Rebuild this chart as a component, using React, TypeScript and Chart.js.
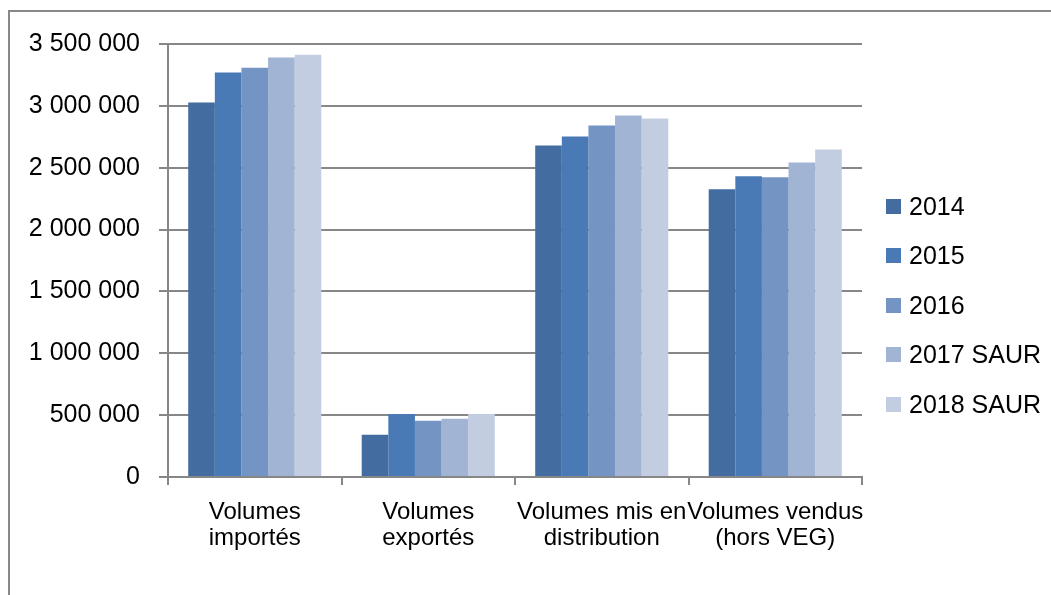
import React, { useEffect, useRef } from "react";
import { Chart, registerables } from "chart.js";

Chart.register(...registerables);

const categories: string[][] = [
  ["Volumes", "importés"],
  ["Volumes", "exportés"],
  ["Volumes mis en", "distribution"],
  ["Volumes vendus", "(hors VEG)"],
];

const seriesNames = ["2014", "2015", "2016", "2017 SAUR", "2018 SAUR"];

const v2014 = [3027000, 341000, 2680000, 2325000];
const v2015 = [3269000, 510000, 2752000, 2430000];
const v2016 = [3309000, 454000, 2841000, 2422000];
const v2017 = [3390000, 470000, 2922000, 2543000];
const v2018 = [3414000, 510000, 2898000, 2648000];

const seriesValues = [v2014, v2015, v2016, v2017, v2018];
const seriesColors = ["#436CA0", "#4A7AB5", "#7494C4", "#A2B4D4", "#C3CDE2"];

const yMax = 3500000;
const yStep = 500000;

const FONT = "'Liberation Sans', Arial, sans-serif";
const GRID = "#878787";

function fmt(n: number): string {
  return String(Math.round(n)).replace(/\B(?=(\d{3})+(?!\d))/g, " ");
}

export default function App() {
  const ref = useRef<HTMLCanvasElement | null>(null);

  useEffect(() => {
    document.body.style.margin = "0";
    const canvas = ref.current;
    if (!canvas) return;
    const chart = new Chart(canvas, {
      type: "bar",
      data: {
        labels: categories,
        datasets: seriesNames.map((name, i) => ({
          label: name,
          data: seriesValues[i],
          backgroundColor: seriesColors[i],
          borderWidth: 0,
          categoryPercentage: 0.767,
          barPercentage: 1,
        })),
      },
      options: {
        animation: false,
        responsive: false,
        maintainAspectRatio: false,
        layout: { padding: { left: 0, top: 44, right: 189, bottom: 0 } },
        plugins: {
          legend: { display: false },
          tooltip: { enabled: false },
        },
        scales: {
          x: {
            grid: {
              display: true,
              offset: true,
              drawOnChartArea: false,
              drawTicks: true,
              tickLength: 8,
              color: GRID,
              lineWidth: 2,
            },
            border: { display: true, color: GRID, width: 2 },
            ticks: {
              color: "#000",
              font: { family: FONT, size: 24, lineHeight: 1.1 },
              padding: 14,
              maxRotation: 0,
              minRotation: 0,
              autoSkip: false,
            },
            afterFit: (s: any) => {
              s.height = 118;
            },
          },
          y: {
            min: 0,
            max: yMax,
            grid: {
              color: GRID,
              lineWidth: 2,
              tickLength: 9,
              drawTicks: true,
            },
            border: { display: true, color: GRID, width: 2 },
            ticks: {
              stepSize: yStep,
              color: "#000",
              font: { family: FONT, size: 25 },
              padding: 19,
              callback: (v: any) => fmt(Number(v)),
            },
            afterFit: (s: any) => {
              s.width = 168;
            },
          },
        },
      },
    });
    return () => chart.destroy();
  }, []);

  return (
    <div style={{ position: "relative", width: 1051, height: 595, overflow: "hidden", background: "#fff" }}>
      <div
        style={{
          position: "absolute",
          left: 8,
          top: 10,
          width: 1100,
          height: 700,
          borderTop: "2px solid #888",
          borderLeft: "2px solid #888",
          boxSizing: "border-box",
        }}
      />
      <canvas ref={ref} width={1051} height={595} style={{ position: "absolute", left: 0, top: 0, width: 1051, height: 595 }} />
      <div style={{ position: "absolute", left: 886, top: 0 }}>
        {seriesNames.map((name, i) => (
          <div
            key={name}
            style={{
              position: "absolute",
              left: 0,
              top: 206 + i * 49.6 - 15,
              height: 30,
              display: "flex",
              alignItems: "center",
              whiteSpace: "nowrap",
              fontFamily: FONT,
              fontSize: 25,
              color: "#000",
            }}
          >
            <span style={{ display: "inline-block", width: 15, height: 15, background: seriesColors[i], marginRight: 8 }} />
            <span>{name}</span>
          </div>
        ))}
      </div>
    </div>
  );
}
